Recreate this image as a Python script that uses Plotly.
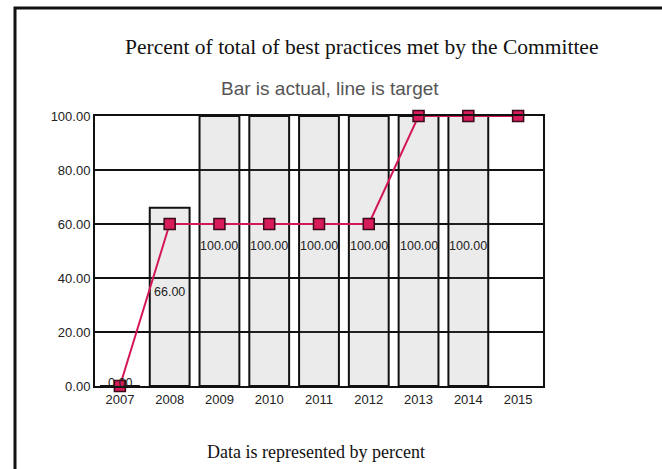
import plotly.graph_objects as go

# Yearly committee figures: actual share of best practices met vs. target
years = ["2007", "2008", "2009", "2010", "2011", "2012", "2013", "2014", "2015"]
actual = [0.0, 66.0, 100.0, 100.0, 100.0, 100.0, 100.0, 100.0, None]
target = [0.0, 60.0, 60.0, 60.0, 60.0, 60.0, 100.0, 100.0, 100.0]
y_ticks = [0, 20, 40, 60, 80, 100]

W, H = 662, 469
L, R, T, B = 95, 119, 116, 83
plot_w = W - L - R
plot_h = H - T - B


def px_x(px):
    return (px - L) / plot_w


def px_y(py):
    return (H - B - py) / plot_h


fig = go.Figure()

fig.add_trace(go.Bar(
    x=years, y=actual, width=0.8,
    marker=dict(color="rgba(120,120,120,0.15)", line=dict(color="#111111", width=2)),
    showlegend=False, hoverinfo="skip",
))

fig.add_trace(go.Scatter(
    x=years, y=target, mode="lines+markers",
    line=dict(color="#d4175a", width=2),
    marker=dict(symbol="square", size=11, color="#d81b5a",
                line=dict(color="#3a0a16", width=1.5)),
    showlegend=False, cliponaxis=False,
))

# value labels, placed mid-bar (x given as category index)
annotations = []
for i, v in enumerate(actual):
    if v is None:
        continue
    annotations.append(dict(
        x=i, y=v / 2, xref="x", yref="y", text=f"{v:.2f}", showarrow=False,
        yshift=5 if v > 0 else 3,
        font=dict(family="Liberation Sans, Arial", size=12.5, color="#222222"),
    ))

annotations += [
    dict(text="Percent of total of best practices met by the Committee",
         x=px_x(361), y=px_y(47), xref="paper", yref="paper", showarrow=False,
         xanchor="center", yanchor="middle",
         font=dict(family="Liberation Serif, Times New Roman", size=21.5, color="#111111")),
    dict(text="Bar is actual, line is target",
         x=px_x(330), y=px_y(88), xref="paper", yref="paper", showarrow=False,
         xanchor="center", yanchor="middle",
         font=dict(family="Liberation Sans, Arial", size=19, color="#555555")),
    dict(text="Data is represented by percent",
         x=px_x(316), y=px_y(452), xref="paper", yref="paper", showarrow=False,
         xanchor="center", yanchor="middle",
         font=dict(family="Liberation Serif, Times New Roman", size=18, color="#111111")),
]

fig.update_layout(
    width=W, height=H,
    margin=dict(l=L, r=R, t=T, b=B),
    paper_bgcolor="white", plot_bgcolor="white",
    bargap=0.2,
    annotations=annotations,
    shapes=[dict(type="rect", xref="paper", yref="paper",
                 x0=px_x(15), x1=px_x(700), y0=px_y(500), y1=px_y(8),
                 line=dict(color="#111111", width=3), fillcolor="rgba(0,0,0,0)",
                 layer="below")],
)

fig.update_xaxes(
    type="category", range=[-0.5, len(years) - 0.5],
    showgrid=False, showline=True, mirror=True,
    linecolor="#111111", linewidth=2, ticks="",
    tickfont=dict(family="Liberation Sans, Arial", size=13, color="#222222"),
)
fig.update_yaxes(
    range=[0, 100], tickvals=y_ticks, tickformat=".2f",
    showgrid=True, gridcolor="#111111", gridwidth=2,
    showline=True, mirror=True, linecolor="#111111", linewidth=2,
    zeroline=False, ticks="",
    tickfont=dict(family="Liberation Sans, Arial", size=13, color="#222222"),
)

fig.write_html("out.html")
